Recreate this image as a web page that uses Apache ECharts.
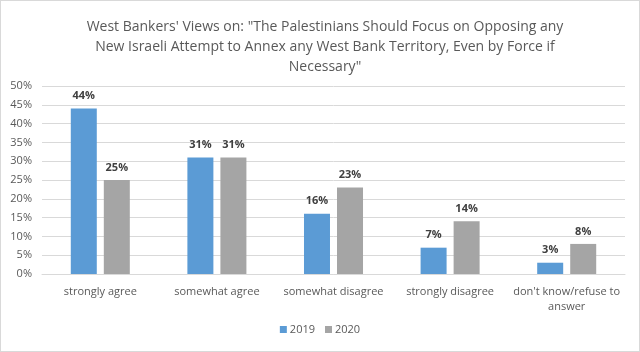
<!DOCTYPE html>
<html>
<head>
<meta charset="utf-8">
<script src="https://cdn.jsdelivr.net/npm/echarts@6/dist/echarts.min.js"></script>
<style>
  html, body { margin: 0; padding: 0; background: #fff; }
  #chart { width: 638px; height: 350px; border: 1px solid #d9d9d9; }
</style>
</head>
<body>
<div id="chart"></div>
<script>
var categories = ['strongly agree', 'somewhat agree', 'somewhat disagree', 'strongly disagree', "don't know/refuse to\nanswer"];
var values2019 = [44, 31, 16, 7, 3];
var values2020 = [25, 31, 23, 14, 8];
var yTicks = [0, 5, 10, 15, 20, 25, 30, 35, 40, 45, 50];

var chart = echarts.init(document.getElementById('chart'));

var labelStyle = {
  show: true,
  position: 'top',
  formatter: '{c}%',
  fontFamily: 'Open Sans',
  fontWeight: 'bold',
  fontSize: 11,
  color: '#404040',
  distance: 7
};

var option = {
  animation: false,
  textStyle: { fontFamily: 'Open Sans' },
  title: {
    text: 'West Bankers\' Views on: "The Palestinians Should Focus on Opposing any\nNew Israeli Attempt to Annex any West Bank Territory, Even by Force if\nNecessary"',
    left: 319,
    top: 11,
    textAlign: 'center',
    textStyle: {
      fontFamily: 'Open Sans',
      fontWeight: 'normal',
      fontSize: 14,
      color: '#595959',
      lineHeight: 20
    }
  },
  color: ['#5b9bd5', '#a5a5a5'],
  legend: {
    data: ['2019', '2020'],
    bottom: 11,
    left: 'center',
    itemWidth: 7,
    itemHeight: 7,
    itemGap: 10,
    icon: 'rect',
    textStyle: { fontSize: 11, color: '#595959', padding: [0, 0, 0, -2] }
  },
  grid: { left: 41, right: 14, top: 85, bottom: 77 },
  xAxis: {
    type: 'category',
    data: categories,
    axisLine: { lineStyle: { color: '#d9d9d9' } },
    axisTick: { show: false },
    axisLabel: { color: '#595959', fontSize: 11, margin: 10, lineHeight: 15, interval: 0 }
  },
  yAxis: {
    type: 'value',
    min: 0,
    max: 50,
    interval: 5,
    axisLine: { show: false },
    axisTick: { show: false },
    splitLine: { lineStyle: { color: '#d9d9d9' } },
    axisLabel: {
      color: '#595959',
      fontSize: 11,
      margin: 10,
      formatter: function (v) { return yTicks.indexOf(v) >= 0 ? v + '%' : ''; }
    }
  },
  series: [
    {
      name: '2019',
      type: 'bar',
      data: values2019,
      barWidth: 26,
      barGap: '27%',
      label: labelStyle
    },
    {
      name: '2020',
      type: 'bar',
      data: values2020,
      barWidth: 26,
      label: labelStyle
    }
  ]
};

chart.setOption(option);
</script>
</body>
</html>
